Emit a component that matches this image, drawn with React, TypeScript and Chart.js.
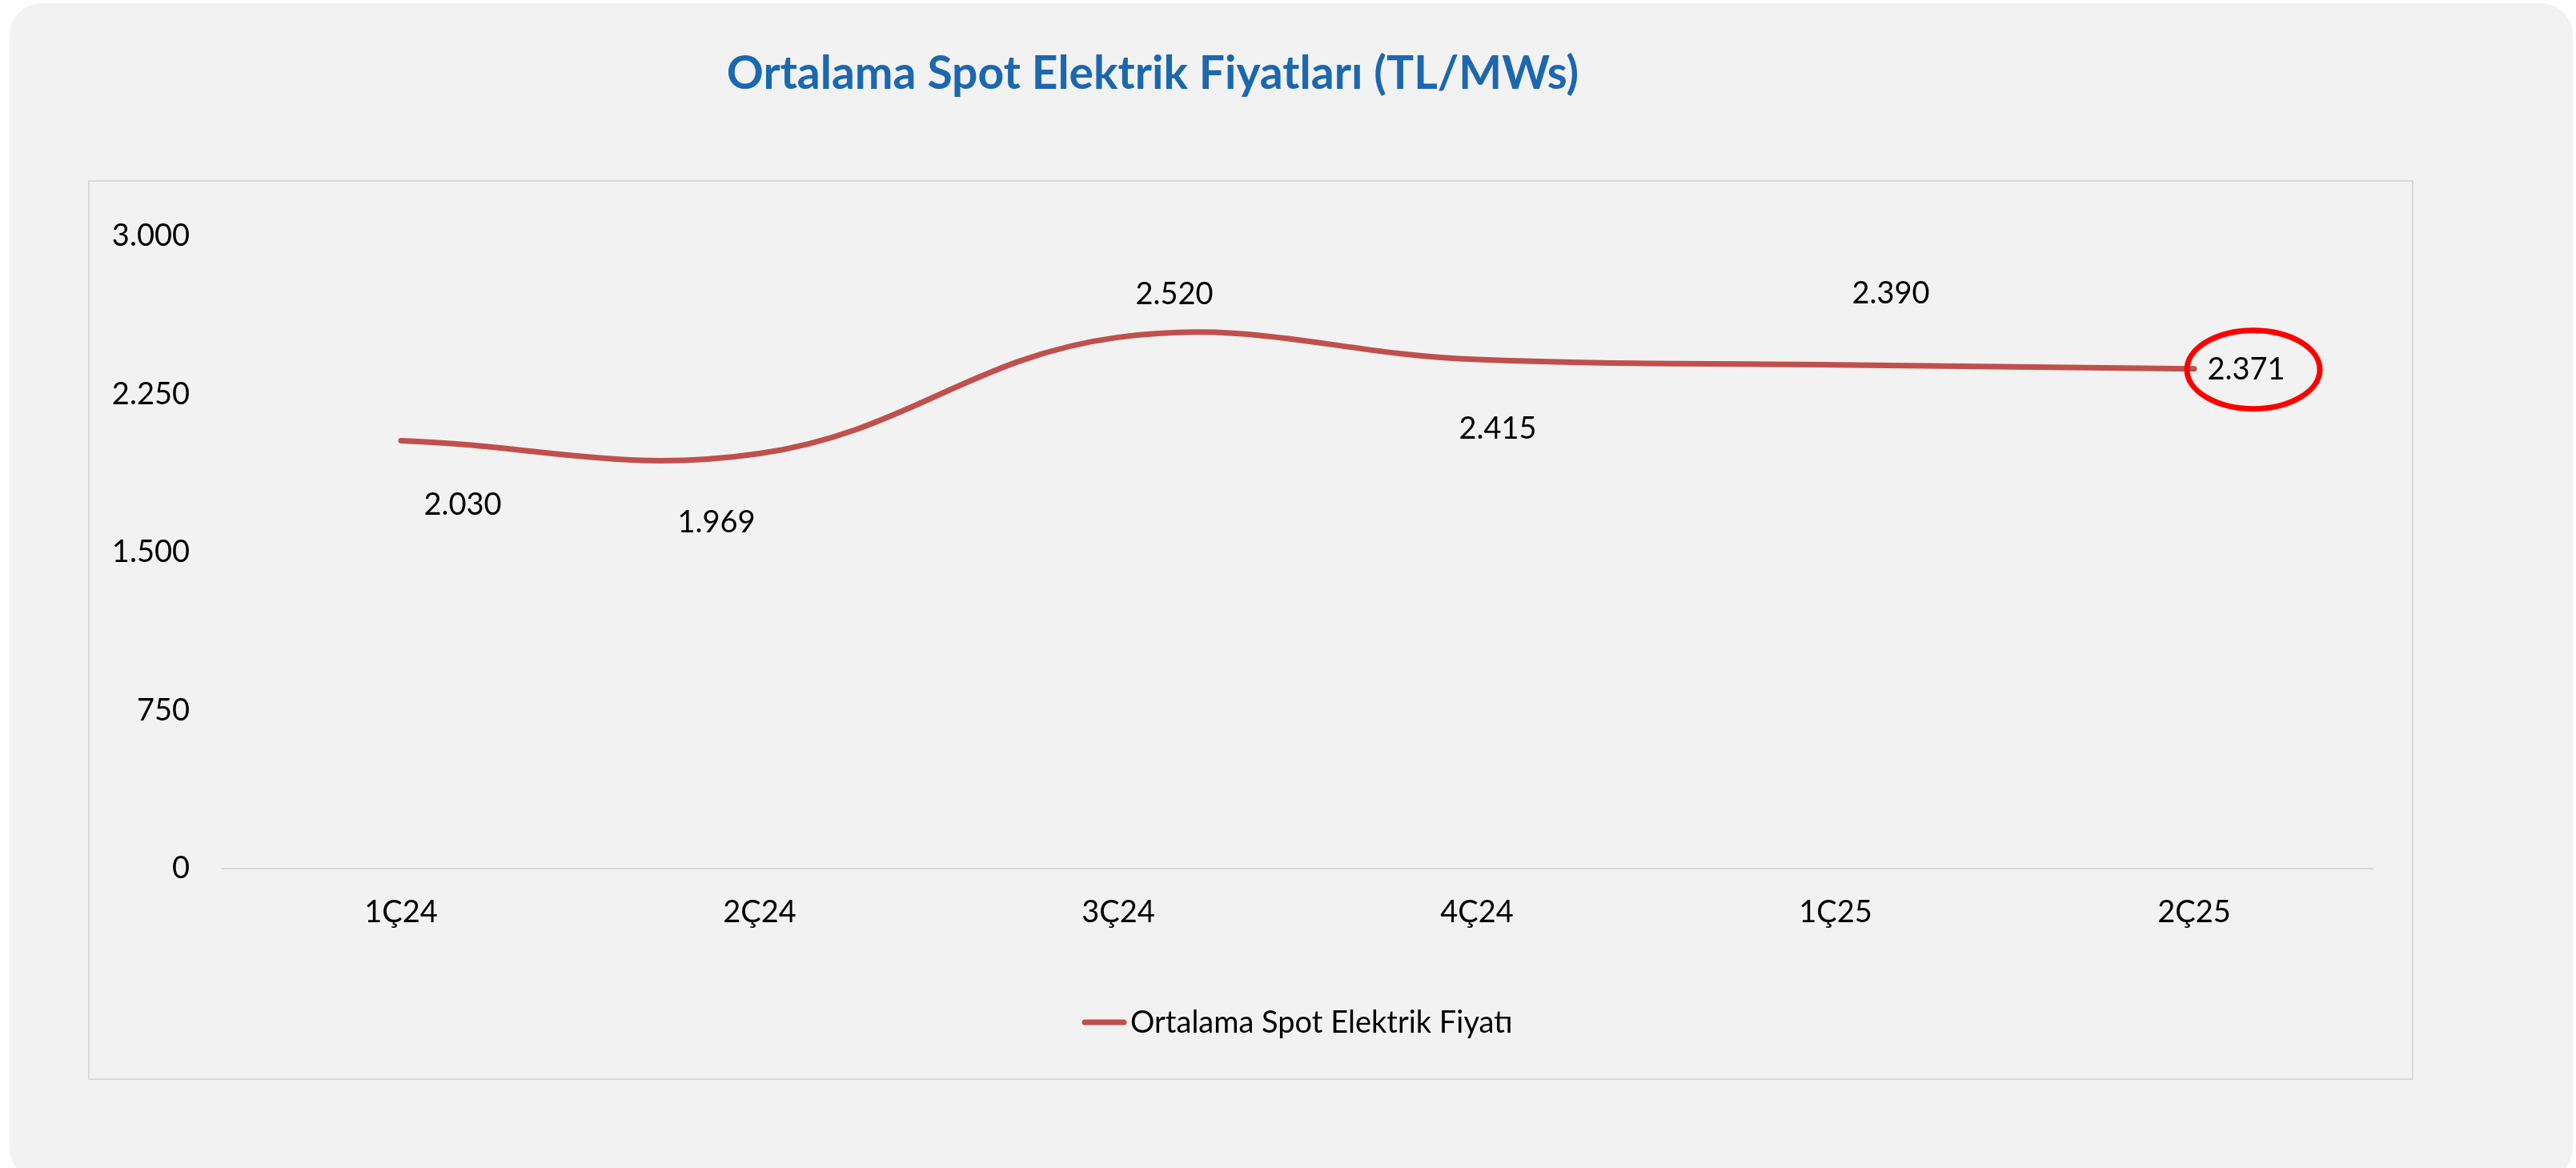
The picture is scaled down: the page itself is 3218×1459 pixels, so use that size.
import { useEffect, useRef } from "react";
import { Chart, registerables } from "chart.js";

Chart.register(...registerables);

const chartTitle = "Ortalama Spot Elektrik Fiyatları (TL/MWs)";
const seriesLabel = "Ortalama Spot Elektrik Fiyatı";
const categories = ["1Ç24", "2Ç24", "3Ç24", "4Ç24", "1Ç25", "2Ç25"];
const prices = [2030, 1969, 2520, 2415, 2390, 2371];
const yTickValues = [0, 750, 1500, 2250, 3000];

const FONT = "Lato, 'Open Sans', sans-serif";
const LINE_COLOR = "#C0504D";

function fmt(v: number): string {
  const s = Math.round(v).toString();
  return s.replace(/\B(?=(\d{3})+(?!\d))/g, ".");
}

// label placement relative to each point (style only)
const labelShift: [number, number][] = [
  [77, 80],
  [-54, 86],
  [70, -54],
  [26, 87],
  [69, -89],
  [65, 1],
];

const decorPlugin = {
  id: "decor",
  beforeDraw(chart: any) {
    const ctx = chart.ctx;
    ctx.save();
    ctx.fillStyle = "#ffffff";
    ctx.fillRect(0, 0, chart.width, chart.height);
    ctx.fillStyle = "#f2f2f2";
    ctx.beginPath();
    (ctx as any).roundRect(12, 4, 3202, 1470, 40);
    ctx.fill();
    ctx.strokeStyle = "#d9d9d9";
    ctx.lineWidth = 2;
    ctx.strokeRect(111, 226, 2903, 1122);
    ctx.restore();
  },
  afterDraw(chart: any) {
    const ctx = chart.ctx;
    ctx.save();
    // title
    ctx.fillStyle = "#1b67b0";
    ctx.font = `bold 57px ${FONT}`;
    ctx.textAlign = "center";
    ctx.textBaseline = "middle";
    ctx.fillText(chartTitle, 1440, 93);

    // data labels
    const meta = chart.getDatasetMeta(0);
    ctx.fillStyle = "#000000";
    ctx.font = `38px ${FONT}`;
    meta.data.forEach((pt: any, i: number) => {
      const [dx, dy] = labelShift[i];
      ctx.fillText(fmt(prices[i]), pt.x + dx, pt.y + dy);
    });

    // highlight ellipse on last value
    const last = meta.data[meta.data.length - 1];
    ctx.strokeStyle = "#ff0000";
    ctx.lineWidth = 7;
    ctx.beginPath();
    ctx.ellipse(last.x + 74, last.y + 1, 83, 49, 0, 0, Math.PI * 2);
    ctx.stroke();

    // legend
    ctx.strokeStyle = LINE_COLOR;
    ctx.lineWidth = 7;
    ctx.lineCap = "round";
    ctx.beginPath();
    ctx.moveTo(1355, 1277);
    ctx.lineTo(1404, 1277);
    ctx.stroke();
    ctx.fillStyle = "#000000";
    ctx.textAlign = "left";
    ctx.font = `38px ${FONT}`;
    ctx.fillText(seriesLabel, 1412, 1278);
    ctx.restore();
  },
};

export default function App() {
  const ref = useRef<HTMLCanvasElement | null>(null);

  useEffect(() => {
    document.body.style.margin = "0";
    document.body.style.background = "#ffffff";
    const canvas = ref.current;
    if (!canvas) return;
    const chart = new Chart(canvas, {
      type: "line",
      data: {
        labels: categories,
        datasets: [
          {
            label: seriesLabel,
            data: prices,
            borderColor: LINE_COLOR,
            backgroundColor: LINE_COLOR,
            borderWidth: 7,
            borderCapStyle: "round",
            tension: 0.4,
            pointRadius: 0,
            pointHoverRadius: 0,
            fill: false,
          },
        ],
      },
      options: {
        responsive: false,
        animation: false,
        devicePixelRatio: 1,
        layout: { padding: { left: 77, right: 253, top: 295, bottom: 274 } },
        plugins: {
          legend: { display: false },
          title: { display: false },
          tooltip: { enabled: false },
        },
        scales: {
          x: {
            offset: true,
            grid: { display: false, drawTicks: false },
            border: { display: false },
            ticks: {
              padding: 32,
              color: "#000000",
              maxRotation: 0,
              autoSkip: false,
              font: { family: FONT, size: 38 },
            },
            afterFit: (s: any) => {
              s.height = 100;
            },
          },
          y: {
            min: 0,
            max: 3000,
            afterBuildTicks: (s: any) => {
              s.ticks = yTickValues.map((v) => ({ value: v }));
            },
            grid: {
              drawTicks: false,
              lineWidth: 2,
              color: (c: any) => (c.tick && c.tick.value === 0 ? "#d9d9d9" : "rgba(0,0,0,0)"),
            },
            border: { display: false },
            ticks: {
              padding: 40,
              color: "#000000",
              font: { family: FONT, size: 38 },
              callback: (v: any) => fmt(Number(v)),
            },
            afterFit: (s: any) => {
              s.width = 200;
            },
          },
        },
      },
      plugins: [decorPlugin],
    });
    return () => chart.destroy();
  }, []);

  return (
    <canvas
      ref={ref}
      width={3218}
      height={1459}
      style={{ display: "block", width: "3218px", height: "1459px" }}
    />
  );
}
